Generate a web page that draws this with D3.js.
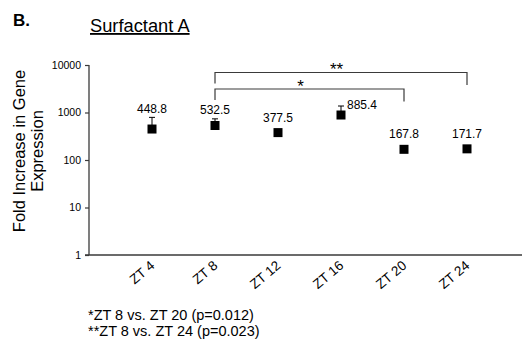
<!DOCTYPE html>
<html>
<head>
<meta charset="utf-8">
<script src="https://cdn.jsdelivr.net/npm/d3@7"></script>
<style>
  html, body { margin: 0; padding: 0; background: #fff; }
  svg { display: block; font-family: Arial, "Liberation Sans", sans-serif; }
</style>
</head>
<body>
<svg id="chart" width="524" height="341"></svg>
<script>
// ---- data ----
const categories = ["ZT 4", "ZT 8", "ZT 12", "ZT 16", "ZT 20", "ZT 24"];
const values     = [448.8, 532.5, 377.5, 885.4, 167.8, 171.7];
const errorTops  = [790, 735, 410, 1370, 185, 190];
const valueLabels = ["448.8", "532.5", "377.5", "885.4", "167.8", "171.7"];
const yTicks     = [1, 10, 100, 1000, 10000];
const brackets   = [
  { from: "ZT 8", to: "ZT 24", label: "**", level: 2 },
  { from: "ZT 8", to: "ZT 20", label: "*",  level: 1 }
];
const footnotes  = ["*ZT 8 vs. ZT 20 (p=0.012)", "**ZT 8 vs. ZT 24 (p=0.023)"];

const svg = d3.select("#chart");
const axisColor = "#3a3a3a";
const FONT = "Arial, 'Liberation Sans', sans-serif";

const x = d3.scalePoint().domain(categories).range([89, 530]).padding(1);
const y = d3.scaleLog().domain([1, 10000]).range([255, 65]);

// panel letter and title
svg.append("text").attr("x", 13).attr("y", 26)
  .attr("font-size", 17).attr("font-weight", "bold").text("B.");
svg.append("text").attr("x", 90).attr("y", 32)
  .attr("font-size", 18.3).attr("text-decoration", "underline").text("Surfactant A");

// y axis
const yAxis = d3.axisLeft(y).tickValues(yTicks).tickFormat(d3.format("d")).tickSize(4).tickPadding(4);
const gy = svg.append("g").attr("transform", "translate(89,0)").call(yAxis);
gy.select(".domain").attr("stroke", axisColor).attr("stroke-width", 1.3).attr("d", "M0,65V255");
gy.selectAll(".tick line").attr("stroke", axisColor).attr("stroke-width", 1.2);
gy.selectAll(".tick text").attr("font-size", 10.5).attr("fill", "#000").attr("font-family", FONT);

// x axis line (no ticks)
const xAxis = d3.axisBottom(x).tickSize(0).tickPadding(0);
const gx = svg.append("g").attr("transform", "translate(0,255)").call(xAxis);
gx.select(".domain").attr("stroke", axisColor).attr("stroke-width", 1.3).attr("d", "M85,0H522");
gx.selectAll(".tick text")
  .attr("font-size", 13.5).attr("fill", "#000").attr("font-family", FONT)
  .attr("text-anchor", "end")
  .attr("dy", 0).attr("y", 0)
  .attr("transform", "translate(3,12) rotate(-40)");

// y title
const yt = svg.append("text").attr("transform", "translate(25,151) rotate(-90)")
  .attr("text-anchor", "middle").attr("font-size", 16.5);
yt.append("tspan").attr("x", 0).attr("y", 0).text("Fold Increase in Gene");
yt.append("tspan").attr("x", 0).attr("y", 18).text("Expression");

// error bars (upper only)
const data = categories.map((c, i) => ({ c, v: values[i], e: errorTops[i], lab: valueLabels[i] }));
const eg = svg.append("g").attr("stroke", "#000").attr("stroke-width", 1);
data.forEach(d => {
  eg.append("line").attr("x1", x(d.c)).attr("x2", x(d.c)).attr("y1", y(d.v)).attr("y2", y(d.e));
  eg.append("line").attr("x1", x(d.c) - 3).attr("x2", x(d.c) + 3).attr("y1", y(d.e)).attr("y2", y(d.e));
});

// markers
svg.append("g").selectAll("rect").data(data).join("rect")
  .attr("x", d => x(d.c) - 4.5).attr("y", d => y(d.v) - 4.5)
  .attr("width", 9).attr("height", 9).attr("fill", "#000");

// value labels
svg.append("g").selectAll("text").data(data).join("text")
  .attr("font-size", 12)
  .attr("text-anchor", d => d.c === "ZT 16" ? "start" : "middle")
  .attr("x", d => d.c === "ZT 16" ? x(d.c) + 6 : x(d.c))
  .attr("y", d => d.c === "ZT 16" ? y(d.v) - 6 : Math.min(y(d.v) - 11, y(d.e) - 4))
  .text(d => d.lab);

// significance brackets
const bracketStyle = { 2: { top: 72.5, bottom: 85, dx: -4.5, base: 75 },
                       1: { top: 89, bottom: 101.5, dx: -9, base: 92 } };
const bg = svg.append("g");
brackets.forEach(b => {
  const s = bracketStyle[b.level];
  const x1 = x(b.from), x2 = x(b.to);
  bg.append("path")
    .attr("d", `M${x1},${s.bottom - 1.5}V${s.top}H${x2}V${s.bottom}`)
    .attr("fill", "none").attr("stroke", axisColor).attr("stroke-width", 1.2);
  bg.append("text").attr("x", (x1 + x2) / 2 + s.dx).attr("y", s.base)
    .attr("text-anchor", "middle").attr("font-size", 17).text(b.label);
});

// footnotes
svg.append("g").selectAll("text").data(footnotes).join("text")
  .attr("x", 88).attr("y", (d, i) => 320 + i * 16)
  .attr("font-size", 14.5).text(d => d);
</script>
</body>
</html>
